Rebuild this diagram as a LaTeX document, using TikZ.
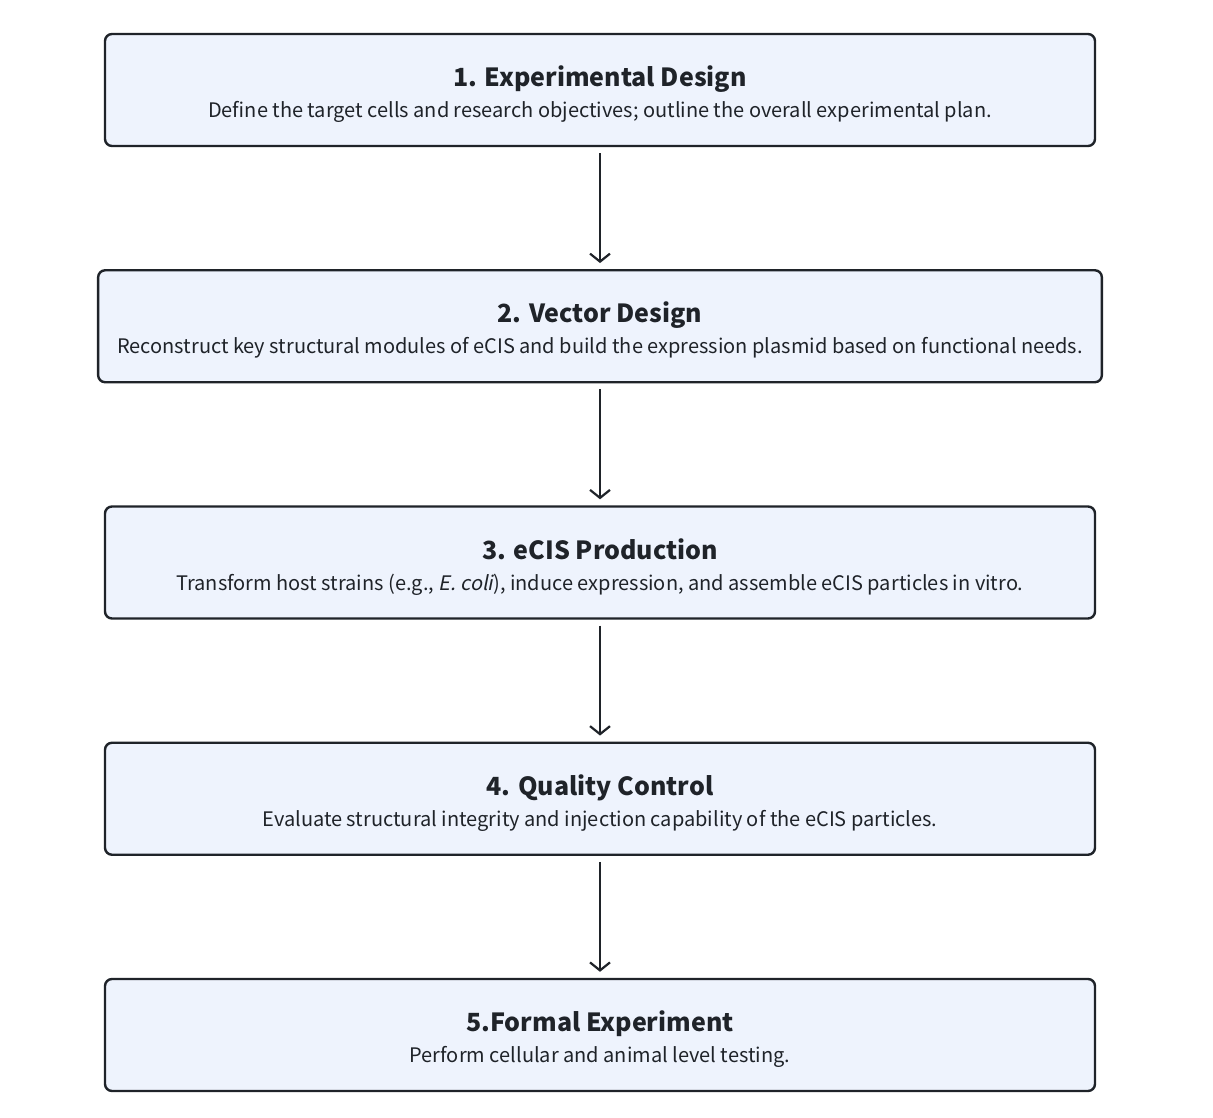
\documentclass[tikz,border=0pt]{standalone}
\usepackage{fontspec}
\setmainfont{Noto Sans CJK SC}[AutoFakeSlant=0.2]
\usepackage{tikz}
\usetikzlibrary{arrows.meta}

\definecolor{boxfill}{HTML}{EEF3FD}
\definecolor{ink}{HTML}{1F2329}

\begin{document}
\begin{tikzpicture}[x=1pt, y=-1pt,
    stepbox/.style={draw=ink, fill=boxfill, line width=2.4pt, rounded corners=7pt,
      minimum width=990pt, minimum height=112pt, inner xsep=19pt, inner ysep=10pt,
      align=center, text=ink, font=\fontsize{20}{31}\selectfont},
    flow/.style={-{Straight Barb[length=8pt, width=20pt]}, line width=2.2pt, ink,
      shorten <=6pt, shorten >=6pt}]
  \useasboundingbox (0,0) rectangle (1213,1118);
  \def \gap {236.25} % distance between step centres
  \foreach \s/\ttl/\dsc in {
      1/{1. Experimental Design}/{Define the target cells and research objectives; outline the overall experimental plan.},
      2/{2. Vector Design}/{Reconstruct key structural modules of eCIS and build the expression plasmid based on functional needs.},
      3/{3. eCIS Production}/{Transform host strains (e.g., \textit{E. coli}), induce expression, and assemble eCIS particles in vitro.},
      4/{4. Quality Control}/{Evaluate structural integrity and injection capability of the eCIS particles.},
      5/{5.Formal Experiment}/{Perform cellular and animal level testing.}}
  {
    \node[stepbox] (s\s) at (600, {90 + \gap*(\s - 1)})
      {\rule{0pt}{29pt}{\fontsize{25}{31}\selectfont\bfseries \ttl}\\
       \dsc};
  }
  \foreach \a/\b in {1/2, 2/3, 3/4, 4/5}
    \draw[flow] (s\a.south) -- (s\b.north);
\end{tikzpicture}
\end{document}
